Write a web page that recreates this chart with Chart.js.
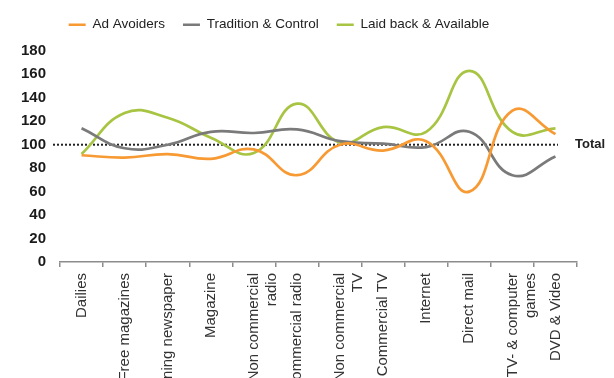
<!DOCTYPE html>
<html>
<head>
<meta charset="utf-8">
<script src="https://cdn.jsdelivr.net/npm/chart.js@4/dist/chart.umd.min.js"></script>
<style>
  html, body { margin: 0; padding: 0; background: #fff; overflow: hidden; }
  #wrap { position: relative; width: 614px; height: 410px; }
</style>
</head>
<body>
<div id="wrap"><canvas id="c"></canvas></div>
<script>
const categories = [
  'Dailies', 'Free magazines', 'Morning newspaper', 'Magazine',
  ['Non commercial', 'radio'], 'Commercial radio', ['Non commercial', 'TV'],
  'Commercial TV', 'Internet', 'Direct mail', ['TV- & computer', 'games'], 'DVD & Video'
];
const seriesNames = ['Ad Avoiders', 'Tradition & Control', 'Laid back & Available'];
const adAvoiders = [91, 89, 92, 88, 96, 74, 100, 95, 103, 60, 129, 109];
const traditionControl = [114, 97, 100, 111, 110, 113, 103, 101, 98, 111, 74, 90];
const laidBack = [92, 127, 123, 106, 93, 135, 102, 115, 111, 163, 111, 114];
const yTicks = [0, 20, 40, 60, 80, 100, 120, 140, 160, 180];
const yMax = 188;
const totalValue = 100;
const totalLabel = 'Total';

const FONT = 'Liberation Sans, Arial, sans-serif';
const colors = ['#f79a33', '#7a7a7a', '#a8c443'];

const totalPlugin = {
  id: 'totalLine',
  beforeDatasetsDraw(chart) {
    const { ctx, chartArea, scales } = chart;
    const y = scales.y.getPixelForValue(totalValue);
    ctx.save();
    ctx.strokeStyle = '#222';
    ctx.lineWidth = 2;
    ctx.setLineDash([2, 2]);
    ctx.beginPath();
    ctx.moveTo(chartArea.left - 7, y);
    ctx.lineTo(chartArea.right - 19, y);
    ctx.stroke();
    ctx.restore();
  },
  afterDatasetsDraw(chart) {
    const { ctx, chartArea, scales } = chart;
    const y = scales.y.getPixelForValue(totalValue);
    ctx.save();
    ctx.fillStyle = '#222';
    ctx.font = 'bold 13px ' + FONT;
    ctx.textAlign = 'left';
    ctx.textBaseline = 'middle';
    ctx.fillText(totalLabel, chartArea.right - 2, y);
    ctx.restore();
  }
};

const mk = (label, data, color) => ({
  label, data,
  borderColor: color,
  backgroundColor: color,
  borderWidth: 2.7,
  pointRadius: 0,
  pointHoverRadius: 0,
  pointStyle: 'line',
  tension: 0.45,
  fill: false
});

new Chart(document.getElementById('c'), {
  type: 'line',
  data: {
    labels: categories,
    datasets: [
      mk(seriesNames[0], adAvoiders, colors[0]),
      mk(seriesNames[1], traditionControl, colors[1]),
      mk(seriesNames[2], laidBack, colors[2])
    ]
  },
  options: {
    responsive: true,
    maintainAspectRatio: false,
    animation: false,
    layout: { padding: { left: -19, right: 37, top: 0, bottom: 0 } },
    plugins: {
      tooltip: { enabled: false },
      legend: {
        position: 'top',
        align: 'center',
        labels: {
          usePointStyle: true,
          pointStyle: 'line',
          pointStyleWidth: 17,
          padding: 18,
          color: '#222',
          font: { family: FONT, size: 13.5 }
        }
      }
    },
    scales: {
      x: {
        type: 'category',
        offset: true,
        grid: {
          display: true,
          drawOnChartArea: false,
          drawTicks: true,
          tickLength: 5,
          color: '#8c8c8c',
          lineWidth: 1.5,
          offset: true
        },
        border: { display: true, color: '#8c8c8c', width: 1.5 },
        ticks: {
          autoSkip: false,
          maxRotation: 90,
          minRotation: 90,
          padding: 6,
          color: '#333',
          font: { family: FONT, size: 15 }
        },
        afterFit(scale) { scale.height = 148; }
      },
      y: {
        min: 0,
        max: yMax,
        afterBuildTicks(scale) { scale.ticks = yTicks.map(v => ({ value: v })); },
        grid: { display: false, drawTicks: false },
        border: { display: false },
        ticks: {
          padding: 14,
          color: '#1a1a1a',
          font: { family: FONT, size: 15, weight: 'bold' }
        },
        afterFit(scale) { scale.width = 79; }
      }
    }
  },
  plugins: [totalPlugin]
});
</script>
</body>
</html>
